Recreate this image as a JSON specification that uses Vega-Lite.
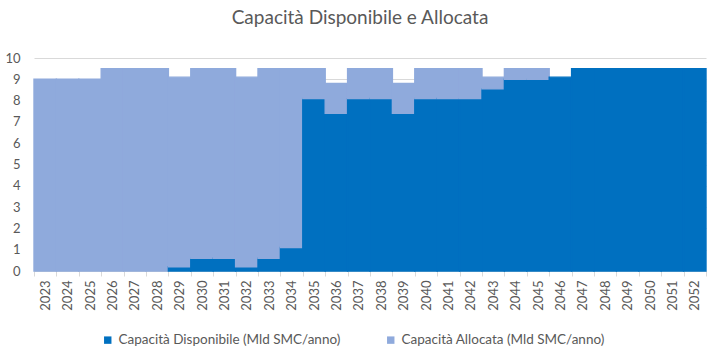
{
  "$schema": "https://vega.github.io/schema/vega-lite/v6.json",
  "width": 672,
  "height": 213,
  "autosize": {"type": "none"},
  "padding": {"left": 34, "top": 58, "right": 19, "bottom": 89},
  "background": "white",
  "title": {
    "text": "Capacità Disponibile e Allocata",
    "fontSize": 19,
    "font": "Lato",
    "fontWeight": "normal",
    "color": "#595959",
    "anchor": "middle",
    "dx": -10,
    "offset": 24
  },
  "data": {
    "values": [
      {"year": "2023", "series": "Capacità Allocata  (Mld SMC/anno)", "value": 9.0},
      {"year": "2024", "series": "Capacità Allocata  (Mld SMC/anno)", "value": 9.0},
      {"year": "2025", "series": "Capacità Allocata  (Mld SMC/anno)", "value": 9.0},
      {"year": "2026", "series": "Capacità Allocata  (Mld SMC/anno)", "value": 9.5},
      {"year": "2027", "series": "Capacità Allocata  (Mld SMC/anno)", "value": 9.5},
      {"year": "2028", "series": "Capacità Allocata  (Mld SMC/anno)", "value": 9.5},
      {"year": "2029", "series": "Capacità Disponibile  (Mld SMC/anno)", "value": 0.2},
      {"year": "2029", "series": "Capacità Allocata  (Mld SMC/anno)", "value": 8.9},
      {"year": "2030", "series": "Capacità Disponibile  (Mld SMC/anno)", "value": 0.6},
      {"year": "2030", "series": "Capacità Allocata  (Mld SMC/anno)", "value": 8.9},
      {"year": "2031", "series": "Capacità Disponibile  (Mld SMC/anno)", "value": 0.6},
      {"year": "2031", "series": "Capacità Allocata  (Mld SMC/anno)", "value": 8.9},
      {"year": "2032", "series": "Capacità Disponibile  (Mld SMC/anno)", "value": 0.2},
      {"year": "2032", "series": "Capacità Allocata  (Mld SMC/anno)", "value": 8.9},
      {"year": "2033", "series": "Capacità Disponibile  (Mld SMC/anno)", "value": 0.6},
      {"year": "2033", "series": "Capacità Allocata  (Mld SMC/anno)", "value": 8.9},
      {"year": "2034", "series": "Capacità Disponibile  (Mld SMC/anno)", "value": 1.1},
      {"year": "2034", "series": "Capacità Allocata  (Mld SMC/anno)", "value": 8.4},
      {"year": "2035", "series": "Capacità Disponibile  (Mld SMC/anno)", "value": 8.1},
      {"year": "2035", "series": "Capacità Allocata  (Mld SMC/anno)", "value": 1.4},
      {"year": "2036", "series": "Capacità Disponibile  (Mld SMC/anno)", "value": 7.4},
      {"year": "2036", "series": "Capacità Allocata  (Mld SMC/anno)", "value": 1.4},
      {"year": "2037", "series": "Capacità Disponibile  (Mld SMC/anno)", "value": 8.1},
      {"year": "2037", "series": "Capacità Allocata  (Mld SMC/anno)", "value": 1.4},
      {"year": "2038", "series": "Capacità Disponibile  (Mld SMC/anno)", "value": 8.1},
      {"year": "2038", "series": "Capacità Allocata  (Mld SMC/anno)", "value": 1.4},
      {"year": "2039", "series": "Capacità Disponibile  (Mld SMC/anno)", "value": 7.4},
      {"year": "2039", "series": "Capacità Allocata  (Mld SMC/anno)", "value": 1.4},
      {"year": "2040", "series": "Capacità Disponibile  (Mld SMC/anno)", "value": 8.1},
      {"year": "2040", "series": "Capacità Allocata  (Mld SMC/anno)", "value": 1.4},
      {"year": "2041", "series": "Capacità Disponibile  (Mld SMC/anno)", "value": 8.1},
      {"year": "2041", "series": "Capacità Allocata  (Mld SMC/anno)", "value": 1.4},
      {"year": "2042", "series": "Capacità Disponibile  (Mld SMC/anno)", "value": 8.1},
      {"year": "2042", "series": "Capacità Allocata  (Mld SMC/anno)", "value": 1.4},
      {"year": "2043", "series": "Capacità Disponibile  (Mld SMC/anno)", "value": 8.55},
      {"year": "2043", "series": "Capacità Allocata  (Mld SMC/anno)", "value": 0.55},
      {"year": "2044", "series": "Capacità Disponibile  (Mld SMC/anno)", "value": 9.0},
      {"year": "2044", "series": "Capacità Allocata  (Mld SMC/anno)", "value": 0.5},
      {"year": "2045", "series": "Capacità Disponibile  (Mld SMC/anno)", "value": 9.0},
      {"year": "2045", "series": "Capacità Allocata  (Mld SMC/anno)", "value": 0.5},
      {"year": "2046", "series": "Capacità Disponibile  (Mld SMC/anno)", "value": 9.1},
      {"year": "2047", "series": "Capacità Disponibile  (Mld SMC/anno)", "value": 9.5},
      {"year": "2048", "series": "Capacità Disponibile  (Mld SMC/anno)", "value": 9.5},
      {"year": "2049", "series": "Capacità Disponibile  (Mld SMC/anno)", "value": 9.5},
      {"year": "2050", "series": "Capacità Disponibile  (Mld SMC/anno)", "value": 9.5},
      {"year": "2051", "series": "Capacità Disponibile  (Mld SMC/anno)", "value": 9.5},
      {"year": "2052", "series": "Capacità Disponibile  (Mld SMC/anno)", "value": 9.5}
    ]
  },
  "mark": {"type": "bar", "strokeWidth": 1.4, "strokeJoin": "miter"},
  "encoding": {
    "x": {
      "field": "year",
      "type": "ordinal",
      "scale": {"paddingInner": 0, "paddingOuter": 0},
      "axis": {
        "title": null,
        "labelAngle": -90,
        "labelFont": "Lato",
        "labelFontSize": 13,
        "labelColor": "#595959",
        "labelPadding": 4,
        "tickBand": "extent",
        "tickColor": "#D9D9D9",
        "tickSize": 5,
        "domainColor": "#D9D9D9",
        "grid": false
      }
    },
    "y": {
      "field": "value",
      "type": "quantitative",
      "stack": "zero",
      "scale": {"domain": [0, 10], "nice": false},
      "axis": {
        "title": null,
        "values": [0, 1, 2, 3, 4, 5, 6, 7, 8, 9, 10],
        "labelFont": "Lato",
        "labelFontSize": 13,
        "labelColor": "#595959",
        "ticks": false,
        "domain": false,
        "labelPadding": 14,
        "gridColor": "#D9D9D9"
      }
    },
    "color": {
      "field": "series",
      "type": "nominal",
      "scale": {
        "domain": ["Capacità Disponibile  (Mld SMC/anno)", "Capacità Allocata  (Mld SMC/anno)"],
        "range": ["#0070C0", "#8FAADC"]
      },
      "legend": {
        "title": null,
        "orient": "none",
        "legendX": 67,
        "legendY": 275,
        "direction": "horizontal",
        "symbolType": "square",
        "symbolSize": 55,
        "symbolStrokeWidth": 0,
        "labelFont": "Lato",
        "labelFontSize": 13.5,
        "labelColor": "#595959",
        "labelLimit": 400,
        "labelOffset": 4,
        "columnPadding": 40
      }
    },
    "stroke": {
      "field": "series",
      "type": "nominal",
      "scale": {
        "domain": ["Capacità Disponibile  (Mld SMC/anno)", "Capacità Allocata  (Mld SMC/anno)"],
        "range": ["#0070C0", "#8FAADC"]
      },
      "legend": null
    },
    "order": {"field": "series", "sort": "descending"}
  },
  "config": {
    "view": {"stroke": null}
  }
}
